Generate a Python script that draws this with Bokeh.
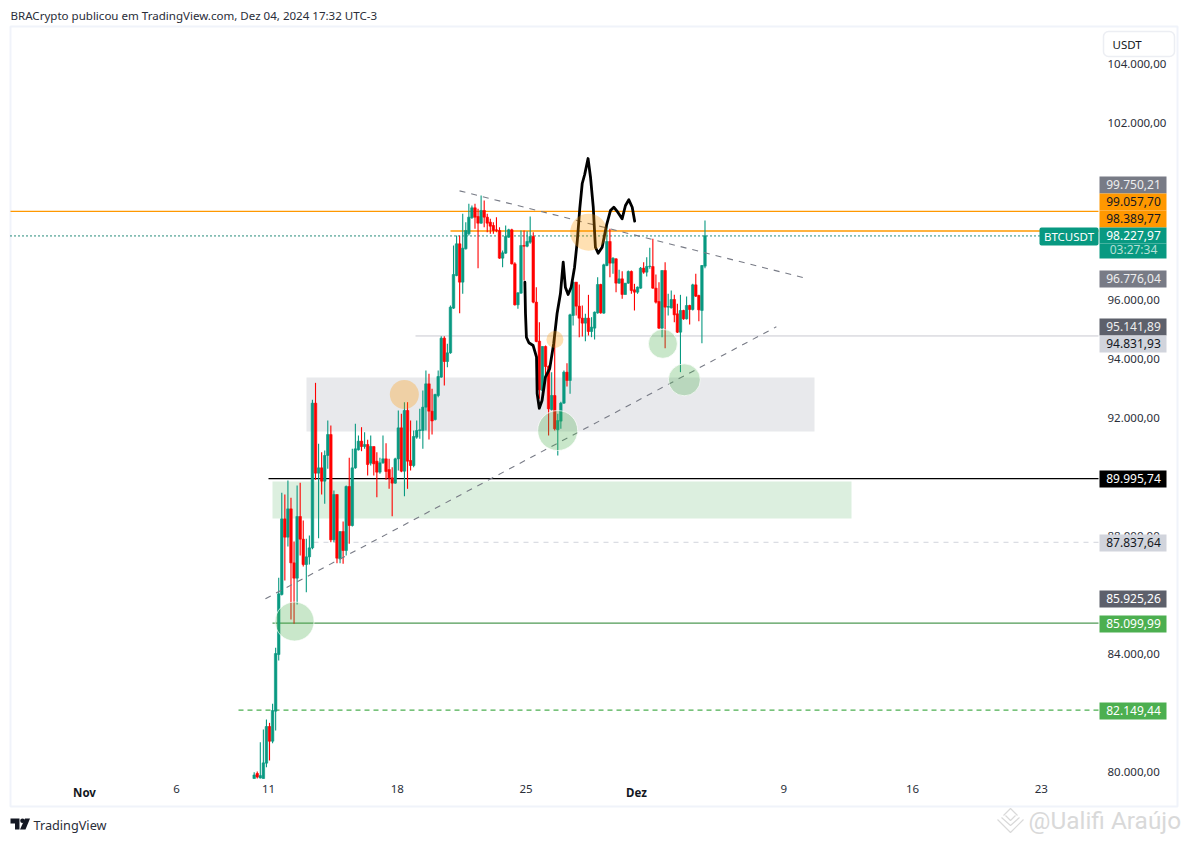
from bokeh.plotting import figure
from bokeh.models import Range1d, LinearAxis, FixedTicker, ColumnDataSource
from bokeh.core.properties import value
from bokeh.embed import file_html
from bokeh.resources import INLINE
import numpy as np

# ---- candle data (4h BTCUSDT) ----
first_bar = 55.33
opens = [79830,80000,79850,79830,80350,81593,81095,82112,84033,86067,88632,88011,88971,87141,86621,88712,87943,87084,87344,87649,
92554,90181,90361,89909,90780,91491,87921,89457,87277,88203,87559,89729,88406,90361,90972,91265,91085,91152,90520,91085,
90587,90215,90531,90667,90305,90022,89842,90667,91717,90248,92305,90610,90440,91401,91627,91627,92418,93209,92282,92000,
92813,93435,94757,93966,94260,95774,96881,97955,96656,97785,98294,98836,99175,98882,98656,99085,98859,98690,98576,98430,
98407,97469,97639,98181,98430,97277,95887,96283,97899,97876,98011,98204,95978,94655,92983,94475,93797,92339,92814,91650,
91944,92554,93605,93322,95526,96656,95842,95435,95266,95435,94983,95097,95616,96576,95605,97221,98034,97300,97446,96622,
96768,96238,96622,97017,96396,96316,96452,97130,96994,97186,97186,96452,96000,95096,97051,95808,95785,96068,95582,94960,
95695,95413,95864,95729,96565,96204,95695,97198]
highs = [80044,80067,81061,81491,81830,81717,82361,84259,86632,89514,89457,89932,89344,87864,89762,89853,88576,87954,88067,92667,
93243,91175,90893,90949,91966,91796,89593,89457,88203,88542,89763,90700,91006,91853,91457,91740,91570,91311,91457,91085,
90893,90700,91457,91198,90667,90384,90700,92305,92192,92588,92588,91966,91627,91966,92362,92983,93661,93548,93039,92870,
93661,94825,94825,94565,95865,97899,98237,98237,98972,98689,99311,99254,99311,99141,99593,99424,98972,98802,98689,98859,
98520,97729,98576,98463,98463,97333,96316,98407,98407,98384,98882,98350,96486,95300,94475,94508,93830,93604,94904,92192,
92600,93661,93910,95582,96678,96656,96576,95865,95582,96226,95469,95661,96825,96600,97277,98576,98463,97503,97469,97074,
97028,96622,97051,97051,96600,96510,97170,97333,97500,97819,98124,96915,96655,97051,97334,96260,96373,96226,95921,96226,
95720,96170,95890,96600,96938,96226,97240,98746]
lows = [79830,79830,79830,79830,80214,80440,81028,81457,83830,86033,86542,87695,85220,85073,85728,87389,87017,86146,87084,87600,
89955,87977,89457,89141,90327,87841,87841,87130,87130,87107,87390,87785,88372,90327,90949,90926,91006,90101,90440,90101,
89367,90158,90497,89955,89650,88723,89819,90271,90215,89401,89650,90271,90384,91345,91345,91006,91627,91322,91491,91966,
92757,93412,93153,93774,94226,95751,96859,95605,96260,97763,98237,98802,98463,97130,98633,98520,98350,98294,98294,98350,
97447,97164,97616,98158,97254,95865,95751,96260,96712,97842,97955,95944,94622,92700,92644,93322,91457,92305,91627,90780,
91684,92531,93119,92870,95186,95526,94791,94813,94655,94848,94791,94712,95582,95582,95582,97198,96825,96938,96316,96599,
96090,96238,96599,96260,95695,96260,96430,96938,96848,97107,96430,95930,95070,94791,94418,95525,95760,95300,94930,93605,
95380,95390,95220,95695,96150,95334,94588,97130]
closes = [79950,79880,79930,80361,81593,81095,82135,84067,86090,88632,88011,88971,87141,86621,88712,87943,87084,87344,87649,92554,
90181,90361,89909,90780,91491,87921,89457,87299,88203,87559,89729,88406,90361,91006,91265,91085,91152,90474,91085,90497,
90215,90531,90667,90237,90022,89842,90667,91717,90248,92305,90587,90440,91424,91627,91650,92418,93209,92282,91950,92847,
93458,94757,93966,94260,95808,96915,97955,96656,97808,98407,98859,99175,98859,98656,99085,98859,98656,98554,98407,98407,
97469,97650,98204,98430,97277,95887,96294,97899,97876,98034,98204,95978,94644,93006,94475,93797,92362,92814,91684,91966,
92554,93605,93322,95548,96656,95842,95435,95266,95435,94983,95130,95638,96576,95616,97243,98034,97300,97469,96622,96768,
96238,96622,97017,96373,96316,96486,97130,96994,97186,97200,96452,95977,95096,97051,95808,95830,96068,95548,94960,95695,
95413,95864,95729,96565,96181,95717,97220,98227]

# ---- price levels ----
level_black = 89995.74
level_dash_gray = 87837.64
level_green = 85099.99
level_dash_green = 82149.44
level_orange_a = 99057.70
level_orange_b = 98389.77
level_last = 98227.97
level_light = 94831.93

# ---- trend lines (bar, price) ----
trend_down = ([122.3, 235.7], [99750.21, 96776.04])
trend_up = ([59.0, 225.6], [85925.26, 95141.89])

# ---- hand drawn black path (bar, price) ----
path_bar = [143.6,143.8,144.1,144.9,146.3,147.4,147.6,148.3,149.2,150.3,151.7,153.0,154.1,155.2,156.1,156.8,157.7,158.7,159.8,160.7,161.5,162.3,163.1,164.2,165.0,165.9,166.6,167.5,168.8,170.2,171.5,172.6,173.9,175.3,176.4,177.5,178.6,179.4]
path_price = [96654,95593,94789,94600,94508,94111,92881,92382,92643,93433,93728,94576,95593,96271,97332,96484,96237,96484,97162,98067,99152,100000,100305,100847,100213,99196,97840,97637,97840,98576,99084,99196,99027,98803,99254,99447,99196,98722]

# ---- circles ----
green_bar = [68.5, 154.3, 188.6, 195.6]
green_price = [85152, 91626, 94566, 93345]
green_size = [39, 40, 29, 32]
orange_bar = [104.3, 153.4, 164.4]
orange_price = [92847, 94711, 98349]
orange_size = [29, 17, 37]

# ---- axis labels ----
price_ticks = [80000,84000,88000,92000,94000,96000,102000,104000]
price_labels = ["80.000,00","84.000,00","88.000,00","92.000,00","94.000,00","96.000,00","102.000,00","104.000,00"]
day_ticks = [30,60,102,144,228,270,312]
day_labels = ["6","11","18","25","9","16","23"]
month_ticks = [0,180]
month_labels = ["Nov","Dez"]

# ---- right-hand price tags ----
tag_text = ["99.750,21","99.057,70","98.389,77","98.227,97","03:27:34","96.776,04","95.141,89","94.831,93","89.995,74","87.837,64","85.925,26","85.099,99","82.149,44"]
tag_mid = [184,201,218,235,249,278,326,343,478,542,598,623,710]
tag_top = [176,193,210,227,243,270,318,335,470,534,590,615,702]
tag_bot = [193,210,227,243,258,287,335,352,487,551,607,632,719]
tag_fill = ["#787b86","#ff9800","#ff9800","#089981","#089981","#787b86","#5d606b","#d1d4dc","#000000","#d1d4dc","#5d606b","#4caf50","#4caf50"]
tag_color = ["#eeeeee","#131722","#131722","#ffffff","#b5e0d6","#eeeeee","#eeeeee","#131722","#ffffff","#131722","#ffffff","#ffffff","#ffffff"]

# layout helpers: page pixel -> data
PX0, PXPB = 84.0, 3.0667
PY0, PPP = 65.0, 33.898
def X(px): return (px - PX0) / PXPB
def Y(py): return 104000 - (py - PY0) * PPP

W, H = 1186, 838
p = figure(width=W, height=H, output_backend="svg", toolbar_location=None,
           x_range=Range1d(X(0), X(W)), y_range=Range1d(Y(H), Y(0)),
           min_border=0, min_border_left=0, min_border_right=0, min_border_top=0, min_border_bottom=0,
           x_axis_location=None, y_axis_location=None, outline_line_color=None, background_fill_color="white")
p.xgrid.visible = False
p.ygrid.visible = False

FONT = value("Noto Sans")

# chart border
p.quad(left=[X(10)], right=[X(1177)], top=[Y(26)], bottom=[Y(806)], fill_color=None, line_color="#f0f3fa", line_width=2)

# zones
p.quad(left=[X(306)], right=[X(814)], top=[Y(377)], bottom=[Y(431)], fill_color="#e8e9ec", line_color=None)
p.quad(left=[X(272)], right=[X(851)], top=[Y(481)], bottom=[Y(518)], fill_color="#dcefdf", line_color=None)

# levels
right = X(1098)
p.line([X(10), right], [level_orange_a]*2, line_color="#ff9800", line_width=1.3)
p.line([X(450), right], [level_orange_b]*2, line_color="#ff9800", line_width=1.5)
p.line([X(10), right], [level_last]*2, line_color="#067a67", line_width=1.7, line_dash="1 3")
p.line([X(415), right], [level_light]*2, line_color="#c8c8d0", line_width=1)
p.line([X(268), right], [level_black]*2, line_color="#000000", line_width=1.3)
p.line([X(313), right], [level_dash_gray]*2, line_color="#d1d4dc", line_width=1, line_dash="5 5")
p.line([X(272), right], [level_green]*2, line_color="#4f9a55", line_width=1.2)
p.line([X(238), right], [level_dash_green]*2, line_color="#4caf50", line_width=1.2, line_dash="5 4")

# candles
n = len(closes)
bars = first_bar + np.arange(n)
o, h, l, c = map(np.array, (opens, highs, lows, closes))
cols = np.where(c >= o, "#089981", "#ff0000")
src = ColumnDataSource(dict(x=bars, o=o, h=h, l=l, c=c, top=np.maximum(o, c), bot=np.minimum(o, c), col=cols))
p.segment("x", "h", "x", "l", source=src, line_color="col", line_width=1.1)
p.vbar("x", 0.82, "top", "bot", source=src, fill_color="col", line_color="col", line_width=0.6)

# trend lines
p.line(trend_down[0], trend_down[1], line_color="#787b86", line_width=1.1, line_dash="6 6")
p.line(trend_up[0], trend_up[1], line_color="#787b86", line_width=1.1, line_dash="6 6")

# hand path
p.line(path_bar, path_price, line_color="#000000", line_width=2.8, line_join="round", line_cap="round")

# circles
p.scatter(green_bar, green_price, size=green_size, marker="circle", fill_color="#4caf50", fill_alpha=0.3,
          line_color="white", line_alpha=0.7, line_width=1)
p.scatter(orange_bar, orange_price, size=orange_size, marker="circle", fill_color="#ff9800", fill_alpha=0.3, line_color=None)

# axes (real Bokeh axes placed inside the frame); label_nudge centres the labels as in the reference
label_nudge = 65
ax_r = LinearAxis(ticker=FixedTicker(ticks=[t + label_nudge for t in price_ticks]), fixed_location=X(1100),
                  major_label_overrides={t + label_nudge: s for t, s in zip(price_ticks, price_labels)},
                  axis_line_color=None, major_tick_line_color=None, minor_tick_line_color=None,
                  major_label_text_font="Noto Sans", major_label_text_font_size="11.5px",
                  major_label_text_color="#2a2e39", major_label_standoff=1)
p.add_layout(ax_r, "right")
ax_b = LinearAxis(ticker=FixedTicker(ticks=day_ticks), fixed_location=Y(778),
                  major_label_overrides=dict(zip(day_ticks, day_labels)),
                  axis_line_color=None, major_tick_line_color=None, minor_tick_line_color=None,
                  major_label_text_font="Noto Sans", major_label_text_font_size="11.5px",
                  major_label_text_color="#2a2e39", major_label_standoff=0)
p.add_layout(ax_b, "below")
ax_m = LinearAxis(ticker=FixedTicker(ticks=month_ticks), fixed_location=Y(778),
                  major_label_overrides=dict(zip(month_ticks, month_labels)),
                  axis_line_color=None, major_tick_line_color=None, minor_tick_line_color=None,
                  major_label_text_font="Noto Sans", major_label_text_font_size="11.5px",
                  major_label_text_font_style="bold",
                  major_label_text_color="#131722", major_label_standoff=0)
p.add_layout(ax_m, "below")

# USDT button
p.quad(left=[X(1103)], right=[X(1174)], top=[Y(31)], bottom=[Y(56)], fill_color="white", line_color="#eceef3",
       line_width=1.5, border_radius=5, level="overlay")
p.text([X(1112)], [Y(44)], text=["USDT"], text_font=FONT, text_font_size="11.5px", text_color="#131722",
       text_baseline="middle", level="overlay")

# price tags
p.quad(left=X(1099), right=X(1166), top=[Y(v) for v in tag_top], bottom=[Y(v) for v in tag_bot],
       fill_color=tag_fill, line_color=None, level="overlay")
p.text(x=[X(1133)]*len(tag_text), y=[Y(v) for v in tag_mid], text=tag_text, text_font=FONT, text_font_size="12px",
       text_color=tag_color, text_align="center", text_baseline="middle", level="overlay")
p.quad(left=[X(1039)], right=[X(1098)], top=[Y(227)], bottom=[Y(245)], fill_color="#089981", line_color=None,
       border_radius=2, level="overlay")
p.text([X(1068.5)], [Y(236)], text=["BTCUSDT"], text_font=FONT, text_font_size="11.5px", text_color="white",
       text_align="center", text_baseline="middle", level="overlay")

# header and footer
p.text([X(10)], [Y(15)], text=["BRACrypto publicou em TradingView.com, Dez 04, 2024 17:32 UTC-3"], text_font=FONT,
       text_font_size="11.55px", text_color="#2a2e39", text_baseline="middle")
p.text([X(33)], [Y(824)], text=["TradingView"], text_font=FONT, text_font_size="12.7px", text_color="#2a2e39",
       text_baseline="middle")
# logo
logo_x = [[X(10), X(19), X(19), X(14.5), X(14.5), X(10)], [X(24.5), X(29.5), X(25), X(19.5)]]
logo_y = [[Y(818), Y(818), Y(829), Y(829), Y(823), Y(823)], [Y(818), Y(818), Y(829), Y(829)]]
p.patches(logo_x, logo_y, fill_color="#131722", line_color=None)
p.scatter([X(22)], [Y(820.3)], size=4.6, marker="circle", fill_color="#131722", line_color=None)

# watermark
p.text([X(1028)], [Y(820)], text=["@Ualifi Araújo"], text_font=value("Roboto"), text_font_size="24.4px",
       text_color="#d9d9d9", text_baseline="middle")
wm_x = [[X(997), X(1010), X(1023)], [X(1001), X(1010), X(1019)], [X(1005), X(1010), X(1015)], [X(1003), X(1010), X(1017)]]
wm_y = [[Y(819), Y(832), Y(819)], [Y(817), Y(825), Y(817)], [Y(815), Y(820), Y(815)], [Y(815), Y(808), Y(815)]]
p.multi_line(wm_x, wm_y, line_color="#d9d9d9", line_width=1.2)

open("out.html", "w").write(file_html(p, INLINE))
